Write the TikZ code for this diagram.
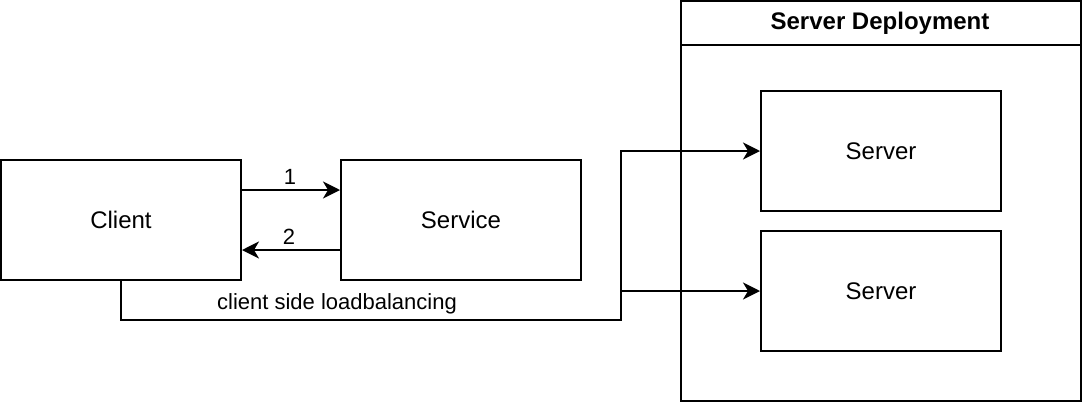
\documentclass[tikz,border=0pt]{standalone}
\usepackage{fontspec}
\setmainfont{Liberation Sans}
\usetikzlibrary{arrows.meta}
\begin{document}
\begin{tikzpicture}[x=1pt,y=-1pt,
  box/.style={draw=black, line width=2pt, fill=white, minimum width=240pt, minimum height=120pt, inner sep=0pt, font=\fontsize{24}{28}\selectfont},
  lbl/.style={inner sep=0pt, font=\fontsize{22}{26}\selectfont},
  arr/.style={line width=2pt, -{Stealth[length=17pt,width=17pt,inset=5pt]}},
  conn/.style={line width=2pt}]
\useasboundingbox (0,0) rectangle (1084,402);
% container
\node[draw=black, line width=2pt, minimum width=400pt, minimum height=400pt, inner sep=0pt] (dep) at (881,201) {};
\draw[line width=2pt] ([yshift=-45pt]dep.north west) -- ([yshift=-45pt]dep.north east);
\node[font=\bfseries\fontsize{24}{28}\selectfont, inner sep=0pt] (title) at (880,23) {Server Deployment};
% boxes
\node[box] (client) at (121,220) {Client};
\node[box] (service) at (461,220) {Service};
\node[box] (s1) at (881,151) {Server};
\node[box] (s2) at (881,291) {Server};
% arrows 1 and 2
\draw[arr] ([yshift=30pt]client.east) -- ([yshift=30pt]service.west);
\node[lbl] (l1) at (290,177) {1};
\draw[arr] ([yshift=-30pt]service.west) -- ([yshift=-30pt]client.east);
\node[lbl] (l2) at (289,237) {2};
% load balancing connector
\coordinate (j1) at (621,320);
\coordinate (j2) at (621,291);
\draw[conn, line join=miter] (client.south) |- (j1) -- (j2);
\draw[arr, line join=miter] (j2) |- (s1.west);
\draw[arr] (j2) -- (s2.west);
\node[lbl] (lb) at (337,304) {client side loadbalancing};
\end{tikzpicture}
\end{document}
